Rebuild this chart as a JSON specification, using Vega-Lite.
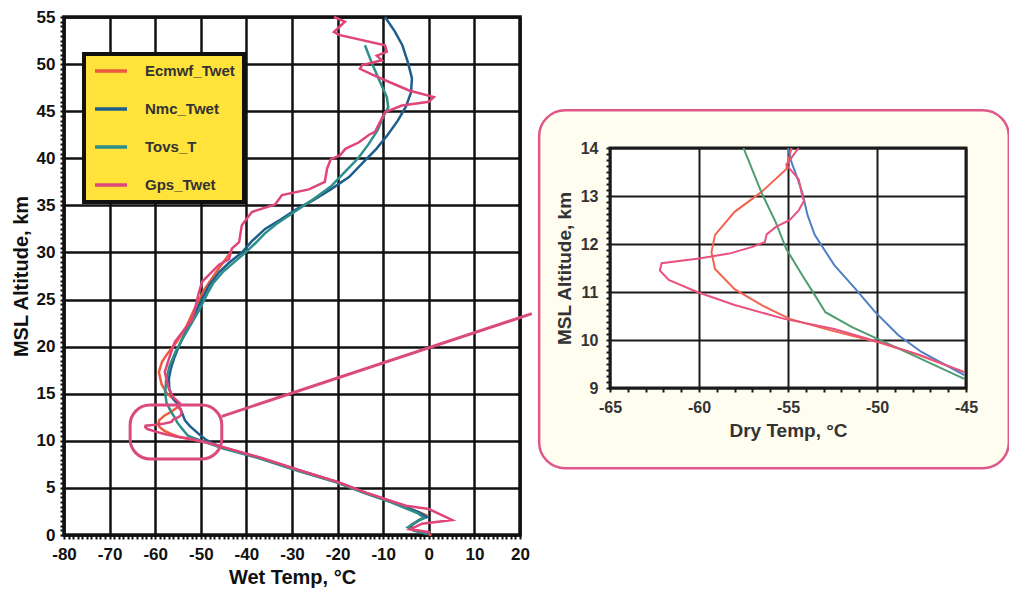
{
  "$schema": "https://vega.github.io/schema/vega-lite/v6.json",
  "background": "white",
  "padding": {"left": 9, "top": 6, "right": 0, "bottom": 0},
  "config": {
    "view": {"stroke": null},
    "font": "Liberation Sans"
  },
  "datasets": {
    "wet": [
      {"series": "Ecmwf_Twet", "alt": 30.0, "temp": -43.5},
      {"series": "Ecmwf_Twet", "alt": 28.0, "temp": -46.5},
      {"series": "Ecmwf_Twet", "alt": 26.0, "temp": -49.3},
      {"series": "Ecmwf_Twet", "alt": 24.0, "temp": -51.4},
      {"series": "Ecmwf_Twet", "alt": 22.0, "temp": -53.3},
      {"series": "Ecmwf_Twet", "alt": 20.5, "temp": -55.3},
      {"series": "Ecmwf_Twet", "alt": 19.2, "temp": -57.4},
      {"series": "Ecmwf_Twet", "alt": 18.4, "temp": -58.5},
      {"series": "Ecmwf_Twet", "alt": 17.3, "temp": -59.2},
      {"series": "Ecmwf_Twet", "alt": 16.0, "temp": -58.6},
      {"series": "Ecmwf_Twet", "alt": 15.0, "temp": -57.4},
      {"series": "Ecmwf_Twet", "alt": 14.0, "temp": -54.8},
      {"series": "Ecmwf_Twet", "alt": 13.56, "temp": -55.1},
      {"series": "Ecmwf_Twet", "alt": 13.08, "temp": -56.5},
      {"series": "Ecmwf_Twet", "alt": 12.67, "temp": -58.0},
      {"series": "Ecmwf_Twet", "alt": 12.19, "temp": -59.1},
      {"series": "Ecmwf_Twet", "alt": 11.83, "temp": -59.3},
      {"series": "Ecmwf_Twet", "alt": 11.48, "temp": -59.1},
      {"series": "Ecmwf_Twet", "alt": 11.06, "temp": -58.0},
      {"series": "Ecmwf_Twet", "alt": 10.73, "temp": -56.5},
      {"series": "Ecmwf_Twet", "alt": 10.44, "temp": -54.9},
      {"series": "Ecmwf_Twet", "alt": 10.2, "temp": -52.6},
      {"series": "Ecmwf_Twet", "alt": 9.96, "temp": -50.0},
      {"series": "Ecmwf_Twet", "alt": 9.69, "temp": -47.7},
      {"series": "Ecmwf_Twet", "alt": 9.33, "temp": -45.1},
      {"series": "Ecmwf_Twet", "alt": 8.2, "temp": -37.2},
      {"series": "Ecmwf_Twet", "alt": 6.8, "temp": -28.3},
      {"series": "Ecmwf_Twet", "alt": 5.6, "temp": -20.0},
      {"series": "Ecmwf_Twet", "alt": 4.4, "temp": -13.6},
      {"series": "Ecmwf_Twet", "alt": 3.5, "temp": -8.0},
      {"series": "Ecmwf_Twet", "alt": 2.6, "temp": -3.2},
      {"series": "Ecmwf_Twet", "alt": 2.1, "temp": -0.6},
      {"series": "Ecmwf_Twet", "alt": 1.7, "temp": -1.6},
      {"series": "Ecmwf_Twet", "alt": 1.1, "temp": -3.8},
      {"series": "Ecmwf_Twet", "alt": 0.6, "temp": -3.6},
      {"series": "Ecmwf_Twet", "alt": 0.2, "temp": -0.8},
      {"series": "Ecmwf_Twet", "alt": 0.0, "temp": 0.6},

      {"series": "Nmc_Twet", "alt": 55.0, "temp": -9.6},
      {"series": "Nmc_Twet", "alt": 53.5, "temp": -7.5},
      {"series": "Nmc_Twet", "alt": 52.0, "temp": -5.8},
      {"series": "Nmc_Twet", "alt": 50.2, "temp": -4.6},
      {"series": "Nmc_Twet", "alt": 48.5, "temp": -3.7},
      {"series": "Nmc_Twet", "alt": 47.0, "temp": -3.9},
      {"series": "Nmc_Twet", "alt": 45.5, "temp": -5.0},
      {"series": "Nmc_Twet", "alt": 44.0, "temp": -6.8},
      {"series": "Nmc_Twet", "alt": 42.5, "temp": -9.0},
      {"series": "Nmc_Twet", "alt": 41.0, "temp": -11.5},
      {"series": "Nmc_Twet", "alt": 39.5, "temp": -14.5},
      {"series": "Nmc_Twet", "alt": 38.0, "temp": -17.5},
      {"series": "Nmc_Twet", "alt": 36.7, "temp": -21.5},
      {"series": "Nmc_Twet", "alt": 35.5, "temp": -25.5},
      {"series": "Nmc_Twet", "alt": 34.6, "temp": -29.0},
      {"series": "Nmc_Twet", "alt": 33.5, "temp": -32.5},
      {"series": "Nmc_Twet", "alt": 32.5, "temp": -35.9},
      {"series": "Nmc_Twet", "alt": 31.2, "temp": -38.8},
      {"series": "Nmc_Twet", "alt": 30.0, "temp": -41.0},
      {"series": "Nmc_Twet", "alt": 28.9, "temp": -43.8},
      {"series": "Nmc_Twet", "alt": 27.9, "temp": -46.0},
      {"series": "Nmc_Twet", "alt": 26.5, "temp": -48.2},
      {"series": "Nmc_Twet", "alt": 25.1, "temp": -49.7},
      {"series": "Nmc_Twet", "alt": 23.9, "temp": -50.9},
      {"series": "Nmc_Twet", "alt": 22.9, "temp": -51.9},
      {"series": "Nmc_Twet", "alt": 21.8, "temp": -53.0},
      {"series": "Nmc_Twet", "alt": 20.8, "temp": -54.1},
      {"series": "Nmc_Twet", "alt": 19.7, "temp": -55.1},
      {"series": "Nmc_Twet", "alt": 18.7, "temp": -55.9},
      {"series": "Nmc_Twet", "alt": 17.6, "temp": -56.6},
      {"series": "Nmc_Twet", "alt": 16.6, "temp": -57.0},
      {"series": "Nmc_Twet", "alt": 15.5, "temp": -56.9},
      {"series": "Nmc_Twet", "alt": 14.4, "temp": -56.0},
      {"series": "Nmc_Twet", "alt": 14.0, "temp": -55.2},
      {"series": "Nmc_Twet", "alt": 13.08, "temp": -54.2},
      {"series": "Nmc_Twet", "alt": 12.19, "temp": -53.5},
      {"series": "Nmc_Twet", "alt": 11.56, "temp": -52.4},
      {"series": "Nmc_Twet", "alt": 11.06, "temp": -51.2},
      {"series": "Nmc_Twet", "alt": 10.58, "temp": -50.1},
      {"series": "Nmc_Twet", "alt": 10.1, "temp": -48.8},
      {"series": "Nmc_Twet", "alt": 9.75, "temp": -47.5},
      {"series": "Nmc_Twet", "alt": 9.27, "temp": -45.1},
      {"series": "Nmc_Twet", "alt": 8.3, "temp": -37.8},
      {"series": "Nmc_Twet", "alt": 6.8, "temp": -28.0},
      {"series": "Nmc_Twet", "alt": 5.6, "temp": -20.0},
      {"series": "Nmc_Twet", "alt": 4.4, "temp": -13.4},
      {"series": "Nmc_Twet", "alt": 3.5, "temp": -8.1},
      {"series": "Nmc_Twet", "alt": 2.4, "temp": -2.1},
      {"series": "Nmc_Twet", "alt": 1.9, "temp": -0.4},
      {"series": "Nmc_Twet", "alt": 1.6, "temp": -2.1},
      {"series": "Nmc_Twet", "alt": 0.85, "temp": -4.3},
      {"series": "Nmc_Twet", "alt": 0.5, "temp": -3.0},
      {"series": "Nmc_Twet", "alt": 0.1, "temp": 0.0},

      {"series": "Tovs_T", "alt": 52.0, "temp": -14.0},
      {"series": "Tovs_T", "alt": 50.0, "temp": -12.4},
      {"series": "Tovs_T", "alt": 48.0, "temp": -10.6},
      {"series": "Tovs_T", "alt": 46.5, "temp": -9.2},
      {"series": "Tovs_T", "alt": 45.4, "temp": -8.9},
      {"series": "Tovs_T", "alt": 44.5, "temp": -9.9},
      {"series": "Tovs_T", "alt": 43.0, "temp": -11.2},
      {"series": "Tovs_T", "alt": 41.5, "temp": -13.2},
      {"series": "Tovs_T", "alt": 40.0, "temp": -15.5},
      {"series": "Tovs_T", "alt": 38.5, "temp": -18.5},
      {"series": "Tovs_T", "alt": 37.0, "temp": -21.5},
      {"series": "Tovs_T", "alt": 35.5, "temp": -25.8},
      {"series": "Tovs_T", "alt": 34.3, "temp": -29.5},
      {"series": "Tovs_T", "alt": 33.0, "temp": -33.5},
      {"series": "Tovs_T", "alt": 32.0, "temp": -36.0},
      {"series": "Tovs_T", "alt": 31.0, "temp": -38.0},
      {"series": "Tovs_T", "alt": 30.0, "temp": -40.2},
      {"series": "Tovs_T", "alt": 29.0, "temp": -42.6},
      {"series": "Tovs_T", "alt": 28.0, "temp": -45.0},
      {"series": "Tovs_T", "alt": 26.8, "temp": -47.2},
      {"series": "Tovs_T", "alt": 25.6, "temp": -48.6},
      {"series": "Tovs_T", "alt": 24.0, "temp": -50.2},
      {"series": "Tovs_T", "alt": 22.5, "temp": -52.0},
      {"series": "Tovs_T", "alt": 21.0, "temp": -53.8},
      {"series": "Tovs_T", "alt": 19.5, "temp": -55.5},
      {"series": "Tovs_T", "alt": 18.0, "temp": -56.8},
      {"series": "Tovs_T", "alt": 16.5, "temp": -57.6},
      {"series": "Tovs_T", "alt": 15.0, "temp": -57.8},
      {"series": "Tovs_T", "alt": 14.0, "temp": -57.5},
      {"series": "Tovs_T", "alt": 13.08, "temp": -56.5},
      {"series": "Tovs_T", "alt": 12.46, "temp": -55.7},
      {"series": "Tovs_T", "alt": 11.9, "temp": -55.1},
      {"series": "Tovs_T", "alt": 11.35, "temp": -54.2},
      {"series": "Tovs_T", "alt": 10.94, "temp": -53.5},
      {"series": "Tovs_T", "alt": 10.58, "temp": -52.9},
      {"series": "Tovs_T", "alt": 10.27, "temp": -51.4},
      {"series": "Tovs_T", "alt": 9.96, "temp": -49.6},
      {"series": "Tovs_T", "alt": 9.6, "temp": -47.5},
      {"series": "Tovs_T", "alt": 9.19, "temp": -45.1},
      {"series": "Tovs_T", "alt": 8.2, "temp": -37.6},
      {"series": "Tovs_T", "alt": 6.8, "temp": -28.6},
      {"series": "Tovs_T", "alt": 5.6, "temp": -20.3},
      {"series": "Tovs_T", "alt": 4.4, "temp": -13.8},
      {"series": "Tovs_T", "alt": 3.5, "temp": -8.4},
      {"series": "Tovs_T", "alt": 2.3, "temp": -2.4},
      {"series": "Tovs_T", "alt": 1.8, "temp": -1.0},
      {"series": "Tovs_T", "alt": 1.5, "temp": -2.4},
      {"series": "Tovs_T", "alt": 0.8, "temp": -4.6},
      {"series": "Tovs_T", "alt": 0.45, "temp": -3.2},
      {"series": "Tovs_T", "alt": 0.1, "temp": -0.3},

      {"series": "Gps_Twet", "alt": 55.0, "temp": -20.8},
      {"series": "Gps_Twet", "alt": 54.5, "temp": -18.4},
      {"series": "Gps_Twet", "alt": 53.4, "temp": -20.8},
      {"series": "Gps_Twet", "alt": 53.1, "temp": -19.7},
      {"series": "Gps_Twet", "alt": 52.0, "temp": -9.6},
      {"series": "Gps_Twet", "alt": 51.3, "temp": -9.2},
      {"series": "Gps_Twet", "alt": 50.9, "temp": -11.4},
      {"series": "Gps_Twet", "alt": 50.4, "temp": -10.3},
      {"series": "Gps_Twet", "alt": 49.9, "temp": -14.6},
      {"series": "Gps_Twet", "alt": 49.5, "temp": -15.1},
      {"series": "Gps_Twet", "alt": 48.9, "temp": -12.5},
      {"series": "Gps_Twet", "alt": 48.1, "temp": -8.7},
      {"series": "Gps_Twet", "alt": 47.2, "temp": -4.3},
      {"series": "Gps_Twet", "alt": 46.5, "temp": 1.1},
      {"series": "Gps_Twet", "alt": 46.0, "temp": 0.0},
      {"series": "Gps_Twet", "alt": 45.6, "temp": -5.9},
      {"series": "Gps_Twet", "alt": 44.9, "temp": -9.6},
      {"series": "Gps_Twet", "alt": 42.8, "temp": -11.8},
      {"series": "Gps_Twet", "alt": 42.5, "temp": -13.1},
      {"series": "Gps_Twet", "alt": 41.7, "temp": -15.3},
      {"series": "Gps_Twet", "alt": 41.0, "temp": -18.3},
      {"series": "Gps_Twet", "alt": 40.3, "temp": -19.5},
      {"series": "Gps_Twet", "alt": 39.9, "temp": -21.5},
      {"series": "Gps_Twet", "alt": 38.9, "temp": -22.3},
      {"series": "Gps_Twet", "alt": 37.5, "temp": -22.8},
      {"series": "Gps_Twet", "alt": 36.7, "temp": -26.3},
      {"series": "Gps_Twet", "alt": 36.1, "temp": -32.2},
      {"series": "Gps_Twet", "alt": 35.1, "temp": -33.7},
      {"series": "Gps_Twet", "alt": 34.3, "temp": -38.8},
      {"series": "Gps_Twet", "alt": 32.9, "temp": -41.0},
      {"series": "Gps_Twet", "alt": 31.1, "temp": -41.6},
      {"series": "Gps_Twet", "alt": 30.4, "temp": -43.2},
      {"series": "Gps_Twet", "alt": 29.3, "temp": -43.8},
      {"series": "Gps_Twet", "alt": 28.7, "temp": -46.0},
      {"series": "Gps_Twet", "alt": 26.9, "temp": -49.7},
      {"series": "Gps_Twet", "alt": 25.8, "temp": -50.4},
      {"series": "Gps_Twet", "alt": 24.0, "temp": -51.3},
      {"series": "Gps_Twet", "alt": 22.9, "temp": -51.9},
      {"series": "Gps_Twet", "alt": 21.5, "temp": -54.1},
      {"series": "Gps_Twet", "alt": 20.5, "temp": -55.7},
      {"series": "Gps_Twet", "alt": 18.7, "temp": -57.0},
      {"series": "Gps_Twet", "alt": 17.3, "temp": -57.9},
      {"series": "Gps_Twet", "alt": 15.5, "temp": -57.0},
      {"series": "Gps_Twet", "alt": 14.6, "temp": -56.0},
      {"series": "Gps_Twet", "alt": 14.0, "temp": -54.6},
      {"series": "Gps_Twet", "alt": 13.65, "temp": -55.1},
      {"series": "Gps_Twet", "alt": 13.35, "temp": -54.4},
      {"series": "Gps_Twet", "alt": 13.0, "temp": -54.2},
      {"series": "Gps_Twet", "alt": 12.7, "temp": -54.4},
      {"series": "Gps_Twet", "alt": 12.5, "temp": -54.9},
      {"series": "Gps_Twet", "alt": 12.35, "temp": -55.7},
      {"series": "Gps_Twet", "alt": 12.2, "temp": -56.2},
      {"series": "Gps_Twet", "alt": 12.04, "temp": -56.3},
      {"series": "Gps_Twet", "alt": 11.94, "temp": -57.0},
      {"series": "Gps_Twet", "alt": 11.8, "temp": -58.3},
      {"series": "Gps_Twet", "alt": 11.7, "temp": -60.0},
      {"series": "Gps_Twet", "alt": 11.6, "temp": -62.1},
      {"series": "Gps_Twet", "alt": 11.45, "temp": -62.2},
      {"series": "Gps_Twet", "alt": 11.25, "temp": -61.7},
      {"series": "Gps_Twet", "alt": 11.0, "temp": -60.1},
      {"series": "Gps_Twet", "alt": 10.73, "temp": -58.0},
      {"series": "Gps_Twet", "alt": 10.44, "temp": -55.2},
      {"series": "Gps_Twet", "alt": 10.23, "temp": -52.4},
      {"series": "Gps_Twet", "alt": 9.96, "temp": -49.9},
      {"series": "Gps_Twet", "alt": 9.69, "temp": -47.6},
      {"series": "Gps_Twet", "alt": 9.33, "temp": -45.1},
      {"series": "Gps_Twet", "alt": 8.2, "temp": -36.8},
      {"series": "Gps_Twet", "alt": 6.8, "temp": -27.8},
      {"series": "Gps_Twet", "alt": 5.6, "temp": -19.8},
      {"series": "Gps_Twet", "alt": 4.4, "temp": -13.2},
      {"series": "Gps_Twet", "alt": 3.5, "temp": -7.6},
      {"series": "Gps_Twet", "alt": 3.1, "temp": -5.0},
      {"series": "Gps_Twet", "alt": 2.76, "temp": 0.0},
      {"series": "Gps_Twet", "alt": 2.2, "temp": 2.5},
      {"series": "Gps_Twet", "alt": 1.6, "temp": 5.1},
      {"series": "Gps_Twet", "alt": 1.2, "temp": -1.5},
      {"series": "Gps_Twet", "alt": 0.6, "temp": -4.1},
      {"series": "Gps_Twet", "alt": 0.3, "temp": 0.3}
    ],
    "dry": [
      {"series": "Ecmwf_Twet", "alt": 14.0, "temp": -54.8},
      {"series": "Ecmwf_Twet", "alt": 13.56, "temp": -55.1},
      {"series": "Ecmwf_Twet", "alt": 13.08, "temp": -56.5},
      {"series": "Ecmwf_Twet", "alt": 12.67, "temp": -58.0},
      {"series": "Ecmwf_Twet", "alt": 12.19, "temp": -59.1},
      {"series": "Ecmwf_Twet", "alt": 11.83, "temp": -59.3},
      {"series": "Ecmwf_Twet", "alt": 11.48, "temp": -59.1},
      {"series": "Ecmwf_Twet", "alt": 11.06, "temp": -58.0},
      {"series": "Ecmwf_Twet", "alt": 10.73, "temp": -56.5},
      {"series": "Ecmwf_Twet", "alt": 10.44, "temp": -54.9},
      {"series": "Ecmwf_Twet", "alt": 10.2, "temp": -52.6},
      {"series": "Ecmwf_Twet", "alt": 9.96, "temp": -50.0},
      {"series": "Ecmwf_Twet", "alt": 9.69, "temp": -47.7},
      {"series": "Ecmwf_Twet", "alt": 9.33, "temp": -45.1},
      {"series": "Nmc_Twet", "alt": 14.0, "temp": -55.0},
      {"series": "Nmc_Twet", "alt": 13.7, "temp": -54.8},
      {"series": "Nmc_Twet", "alt": 13.4, "temp": -54.5},
      {"series": "Nmc_Twet", "alt": 13.08, "temp": -54.2},
      {"series": "Nmc_Twet", "alt": 12.6, "temp": -53.9},
      {"series": "Nmc_Twet", "alt": 12.19, "temp": -53.5},
      {"series": "Nmc_Twet", "alt": 11.56, "temp": -52.4},
      {"series": "Nmc_Twet", "alt": 11.06, "temp": -51.2},
      {"series": "Nmc_Twet", "alt": 10.58, "temp": -50.1},
      {"series": "Nmc_Twet", "alt": 10.1, "temp": -48.8},
      {"series": "Nmc_Twet", "alt": 9.75, "temp": -47.5},
      {"series": "Nmc_Twet", "alt": 9.27, "temp": -45.1},
      {"series": "Tovs_T", "alt": 14.0, "temp": -57.5},
      {"series": "Tovs_T", "alt": 13.08, "temp": -56.5},
      {"series": "Tovs_T", "alt": 12.46, "temp": -55.7},
      {"series": "Tovs_T", "alt": 11.9, "temp": -55.1},
      {"series": "Tovs_T", "alt": 11.35, "temp": -54.2},
      {"series": "Tovs_T", "alt": 10.94, "temp": -53.5},
      {"series": "Tovs_T", "alt": 10.58, "temp": -52.9},
      {"series": "Tovs_T", "alt": 10.27, "temp": -51.4},
      {"series": "Tovs_T", "alt": 9.96, "temp": -49.6},
      {"series": "Tovs_T", "alt": 9.6, "temp": -47.5},
      {"series": "Tovs_T", "alt": 9.19, "temp": -45.1},
      {"series": "Gps_Twet", "alt": 14.0, "temp": -54.4},
      {"series": "Gps_Twet", "alt": 13.65, "temp": -55.1},
      {"series": "Gps_Twet", "alt": 13.35, "temp": -54.4},
      {"series": "Gps_Twet", "alt": 13.0, "temp": -54.2},
      {"series": "Gps_Twet", "alt": 12.9, "temp": -54.1},
      {"series": "Gps_Twet", "alt": 12.7, "temp": -54.4},
      {"series": "Gps_Twet", "alt": 12.5, "temp": -54.9},
      {"series": "Gps_Twet", "alt": 12.35, "temp": -55.7},
      {"series": "Gps_Twet", "alt": 12.2, "temp": -56.2},
      {"series": "Gps_Twet", "alt": 12.04, "temp": -56.3},
      {"series": "Gps_Twet", "alt": 11.94, "temp": -57.0},
      {"series": "Gps_Twet", "alt": 11.8, "temp": -58.3},
      {"series": "Gps_Twet", "alt": 11.7, "temp": -60.0},
      {"series": "Gps_Twet", "alt": 11.6, "temp": -62.1},
      {"series": "Gps_Twet", "alt": 11.45, "temp": -62.2},
      {"series": "Gps_Twet", "alt": 11.25, "temp": -61.7},
      {"series": "Gps_Twet", "alt": 11.0, "temp": -60.1},
      {"series": "Gps_Twet", "alt": 10.73, "temp": -58.0},
      {"series": "Gps_Twet", "alt": 10.44, "temp": -55.2},
      {"series": "Gps_Twet", "alt": 10.23, "temp": -52.4},
      {"series": "Gps_Twet", "alt": 9.96, "temp": -49.9},
      {"series": "Gps_Twet", "alt": 9.69, "temp": -47.6},
      {"series": "Gps_Twet", "alt": 9.33, "temp": -45.1}
    ],
    "zoomRegion": [
      {"t0": -65.5, "t1": -45.4, "h0": 8.07, "h1": 13.8}
    ],
    "leader": [
      {"temp": -45.4, "alt": 12.6},
      {"temp": 22.6, "alt": 23.5}
    ],
    "insetPanel": [
      {"t0": 24.2, "t1": 127.2, "h0": 7.1, "h1": 45.1}
    ]
  },
  "bounds": "flush",
  "spacing": 90,
  "resolve": {"scale": {"color": "independent"}},
  "hconcat": [
    {
      "width": 456,
      "height": 518,
      "view": {"fill": "white", "stroke": "#111", "strokeWidth": 3.5},
      "layer": [
        {
          "data": {"name": "insetPanel"},
          "mark": {"type": "rect", "fill": "#FFFDF0", "stroke": "#E0578A", "strokeWidth": 2.5, "cornerRadius": 26, "clip": false},
          "encoding": {
            "x": {"field": "t0", "type": "quantitative", "scale": {"domain": [-80, 20], "nice": false, "zero": false}},
            "x2": {"field": "t1"},
            "y": {"field": "h0", "type": "quantitative", "scale": {"domain": [0, 55], "nice": false, "zero": false}},
            "y2": {"field": "h1"}
          }
        },
        {
          "data": {"name": "wet"},
          "mark": {"type": "line", "strokeWidth": 2.5},
          "encoding": {
            "x": {
              "field": "temp", "type": "quantitative",
              "scale": {"domain": [-80, 20], "nice": false, "zero": false},
              "axis": {
                "title": "Wet Temp, °C",
                "tickCount": 500,
                "values": [-80,-79,-78,-77,-76,-75,-74,-73,-72,-71,-70,-69,-68,-67,-66,-65,-64,-63,-62,-61,-60,-59,-58,-57,-56,-55,-54,-53,-52,-51,-50,-49,-48,-47,-46,-45,-44,-43,-42,-41,-40,-39,-38,-37,-36,-35,-34,-33,-32,-31,-30,-29,-28,-27,-26,-25,-24,-23,-22,-21,-20,-19,-18,-17,-16,-15,-14,-13,-12,-11,-10,-9,-8,-7,-6,-5,-4,-3,-2,-1,0,1,2,3,4,5,6,7,8,9,10,11,12,13,14,15,16,17,18,19,20],
                "labelExpr": "datum.value % 10 === 0 ? '' + datum.value : ''",
                "gridOpacity": {"condition": {"test": "datum.value % 10 === 0", "value": 1}, "value": 0},
                "gridColor": "#111", "gridWidth": 2.5,
                "ticks": true, "tickOpacity": 1,
                "tickColor": "#111", "tickWidth": 2, "tickSize": 4,
                "domain": false,
                "labelFont": "Liberation Sans", "labelFontSize": 17, "labelFontWeight": "bold", "labelColor": "#111",
                "labelPadding": 7, "labelOverlap": false, "labelFlush": false,
                "titleFont": "Liberation Sans", "titleFontSize": 20, "titleFontWeight": "bold", "titleColor": "#111", "titlePadding": 5
              }
            },
            "y": {
              "field": "alt", "type": "quantitative",
              "scale": {"domain": [0, 55], "nice": false, "zero": false},
              "axis": {
                "title": "MSL Altitude, km",
                "tickCount": 500,
                "values": [0,0.5,1,1.5,2,2.5,3,3.5,4,4.5,5,5.5,6,6.5,7,7.5,8,8.5,9,9.5,10,10.5,11,11.5,12,12.5,13,13.5,14,14.5,15,15.5,16,16.5,17,17.5,18,18.5,19,19.5,20,20.5,21,21.5,22,22.5,23,23.5,24,24.5,25,25.5,26,26.5,27,27.5,28,28.5,29,29.5,30,30.5,31,31.5,32,32.5,33,33.5,34,34.5,35,35.5,36,36.5,37,37.5,38,38.5,39,39.5,40,40.5,41,41.5,42,42.5,43,43.5,44,44.5,45,45.5,46,46.5,47,47.5,48,48.5,49,49.5,50,50.5,51,51.5,52,52.5,53,53.5,54,54.5,55],
                "labelExpr": "datum.value % 5 === 0 ? '' + datum.value : ''",
                "gridOpacity": {"condition": {"test": "datum.value % 5 === 0", "value": 1}, "value": 0},
                "gridColor": "#111", "gridWidth": 2.5,
                "ticks": true, "tickOpacity": 1,
                "tickColor": "#111", "tickWidth": 2, "tickSize": 4,
                "domain": false,
                "labelFont": "Liberation Sans", "labelFontSize": 17, "labelFontWeight": "bold", "labelColor": "#111",
                "labelPadding": 5, "labelOverlap": false, "labelFlush": false,
                "titleFont": "Liberation Sans", "titleFontSize": 20, "titleFontWeight": "bold", "titleColor": "#111", "titlePadding": 5
              }
            },
            "color": {
              "field": "series", "type": "nominal",
              "scale": {
                "domain": ["Ecmwf_Twet", "Nmc_Twet", "Tovs_T", "Gps_Twet"],
                "range": ["#EE5A3C", "#1E5E8C", "#2E8F8A", "#E0457A"]
              },
              "legend": {
                "title": null,
                "orient": "none", "legendX": 20, "legendY": 37,
                "fillColor": "#FFE23A", "strokeColor": "#111",
                "padding": 9,
                "clipHeight": 16,
                "symbolType": "stroke", "symbolSize": 1024, "symbolStrokeWidth": 3.5,
                "labelFont": "Liberation Sans", "labelFontSize": 15, "labelFontWeight": "bold", "labelColor": "#333",
                "labelOffset": 16, "rowPadding": 22,
                "encode": {"legend": {"update": {"strokeWidth": {"value": 4}}}}
              }
            },
            "order": {"field": "alt", "type": "quantitative"}
          }
        },
        {
          "data": {"name": "zoomRegion"},
          "mark": {"type": "rect", "filled": false, "stroke": "#DA4A7C", "strokeWidth": 3, "cornerRadius": 20},
          "encoding": {
            "x": {"field": "t0", "type": "quantitative", "scale": {"domain": [-80, 20], "nice": false, "zero": false}},
            "x2": {"field": "t1"},
            "y": {"field": "h0", "type": "quantitative", "scale": {"domain": [0, 55], "nice": false, "zero": false}},
            "y2": {"field": "h1"}
          }
        },
        {
          "data": {"name": "leader"},
          "mark": {"type": "line", "stroke": "#DA4A7C", "strokeWidth": 3, "clip": false},
          "encoding": {
            "x": {"field": "temp", "type": "quantitative", "scale": {"domain": [-80, 20], "nice": false, "zero": false}},
            "y": {"field": "alt", "type": "quantitative", "scale": {"domain": [0, 55], "nice": false, "zero": false}}
          }
        }
      ]
    },
    {
      "bounds": "flush",
      "spacing": 0,
      "vconcat": [
        {
          "width": 356,
          "height": 131,
          "data": {"values": []},
          "mark": "point",
          "encoding": {}
        },
        {
          "width": 356,
          "height": 240,
          "view": {"fill": "white", "stroke": "#1a1a1a", "strokeWidth": 3},
          "data": {"name": "dry"},
          "mark": {"type": "line", "strokeWidth": 2, "clip": true},
          "encoding": {
            "x": {
              "field": "temp", "type": "quantitative",
              "scale": {"domain": [-65, -45], "nice": false, "zero": false},
              "axis": {
                "title": "Dry Temp, °C",
                "tickCount": 500,
                "values": [-65,-64,-63,-62,-61,-60,-59,-58,-57,-56,-55,-54,-53,-52,-51,-50,-49,-48,-47,-46,-45],
                "labelExpr": "datum.value % 5 === 0 ? '' + datum.value : ''",
                "gridOpacity": {"condition": {"test": "datum.value % 5 === 0", "value": 1}, "value": 0},
                "gridColor": "#1a1a1a", "gridWidth": 2,
                "ticks": true, "tickOpacity": 1,
                "tickColor": "#1a1a1a", "tickWidth": 2, "tickSize": 4,
                "domain": false,
                "labelFont": "Liberation Sans", "labelFontSize": 16, "labelFontWeight": "bold", "labelColor": "#333",
                "labelPadding": 7, "labelOverlap": false, "labelFlush": false,
                "titleFont": "Liberation Sans", "titleFontSize": 19, "titleFontWeight": "bold", "titleColor": "#333", "titlePadding": 6
              }
            },
            "y": {
              "field": "alt", "type": "quantitative",
              "scale": {"domain": [9, 14], "nice": false, "zero": false},
              "axis": {
                "title": "MSL Altitude, km",
                "tickCount": 500,
                "values": [9,9.125,9.25,9.375,9.5,9.625,9.75,9.875,10,10.125,10.25,10.375,10.5,10.625,10.75,10.875,11,11.125,11.25,11.375,11.5,11.625,11.75,11.875,12,12.125,12.25,12.375,12.5,12.625,12.75,12.875,13,13.125,13.25,13.375,13.5,13.625,13.75,13.875,14],
                "labelExpr": "datum.value % 1 === 0 ? '' + datum.value : ''",
                "gridOpacity": {"condition": {"test": "datum.value % 1 === 0", "value": 1}, "value": 0},
                "gridColor": "#1a1a1a", "gridWidth": 2,
                "ticks": true, "tickOpacity": 1,
                "tickColor": "#1a1a1a", "tickWidth": 2, "tickSize": 4,
                "domain": false,
                "labelFont": "Liberation Sans", "labelFontSize": 16, "labelFontWeight": "bold", "labelColor": "#333",
                "labelPadding": 8, "labelOverlap": false, "labelFlush": false,
                "titleFont": "Liberation Sans", "titleFontSize": 19, "titleFontWeight": "bold", "titleColor": "#333", "titlePadding": 6
              }
            },
            "color": {
              "field": "series", "type": "nominal",
              "scale": {
                "domain": ["Ecmwf_Twet", "Nmc_Twet", "Tovs_T", "Gps_Twet"],
                "range": ["#F26450", "#4F7FC4", "#4E9C72", "#E9527E"]
              },
              "legend": null
            },
            "order": {"field": "alt", "type": "quantitative"}
          }
        }
      ]
    }
  ]
}
